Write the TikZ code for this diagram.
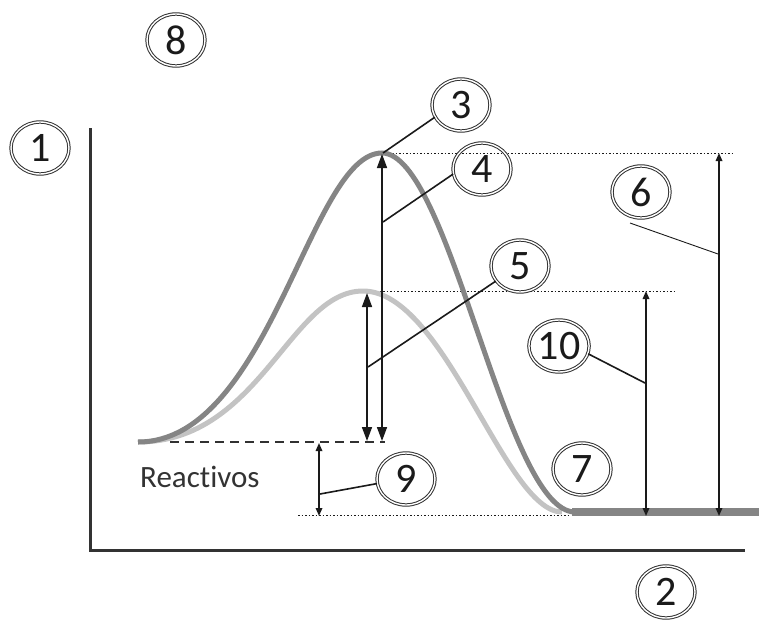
\documentclass[tikz,border=0pt]{standalone}
\usepackage{fontspec}
\setmainfont[Ligatures=NoCommon]{Carlito}
\usetikzlibrary{arrows.meta,shapes.geometric}
\definecolor{axisc}{HTML}{333333}
\definecolor{darkc}{HTML}{858585}
\definecolor{lightc}{HTML}{C3C3C3}
\definecolor{inkc}{HTML}{1A1A1A}
\tikzset{
  numcirc/.style={ellipse,draw=inkc!90,double=white,double distance=1.4pt,line width=1pt,
    minimum width=58pt,minimum height=52pt,inner sep=0pt,font=\fontsize{42}{42}\selectfont,text=inkc},
  axisline/.style={draw=axisc,line width=3pt},
  curveD/.style={draw=darkc,line width=5pt},
  curveL/.style={draw=lightc,line width=5pt},
  bigarr/.style={draw=inkc,line width=1.6pt,{Triangle[length=14pt,width=10pt]}-{Triangle[length=14pt,width=10pt]}},
  smallarr/.style={draw=inkc,line width=1.6pt,{Triangle[length=8pt,width=6.5pt]}-{Triangle[length=8pt,width=6.5pt]}},
  leader/.style={draw=inkc,line width=1.6pt},
  thinleader/.style={draw=inkc,line width=0.9pt},
  dotline/.style={draw=inkc,line width=1pt,dash pattern=on 1.5pt off 2pt},
  dashline/.style={draw=inkc!90,line width=2pt,dash pattern=on 9pt off 6pt},
}
\begin{document}
\begin{tikzpicture}[x=1pt,y=-1pt]
\useasboundingbox (0,0) rectangle (759,621);
% axes
\coordinate (yTop) at (90,128);
\coordinate (origin) at (90,550);
\coordinate (xEnd) at (745,550);
\draw[axisline] (yTop) -- (origin) -- (xEnd);
% guide lines
\coordinate (dA) at (385,153); \coordinate (dB) at (733,153);
\coordinate (dC) at (362,291); \coordinate (dD) at (675,291);
\coordinate (dE) at (298,515); \coordinate (dF) at (570,515);
\coordinate (rA) at (170,442); \coordinate (rB) at (385,442);
\draw[dotline] (dA) -- (dB);
\draw[dotline] (dC) -- (dD);
\draw[dotline] (dE) -- (dF);
\draw[dashline] (rA) -- (rB);
% curves
\draw[curveL] (138,442) .. controls (260,442) and (290,291) .. (363,291)
   .. controls (445,291) and (505,512) .. (562,512);
\draw[curveD] (138,442) .. controls (270,442) and (310,153) .. (382,153)
   .. controls (450,153) and (505,512) .. (575,512);
\draw[draw=darkc,line width=8pt] (572,512) -- (759,512);
% arrows
\coordinate (a4t) at (382,154); \coordinate (a4b) at (382,441);
\coordinate (a5t) at (367,293); \coordinate (a5b) at (367,441);
\coordinate (a9t) at (319,443); \coordinate (a9b) at (319,516);
\coordinate (a10t) at (646,291); \coordinate (a10b) at (646,516);
\coordinate (a6t) at (719,153); \coordinate (a6b) at (719,516);
\draw[bigarr] (a4t) -- (a4b);
\draw[bigarr] (a5t) -- (a5b);
\draw[smallarr] (a9t) -- (a9b);
\draw[smallarr] (a10t) -- (a10b);
\draw[smallarr] (a6t) -- (a6b);
% labels
\node[numcirc] (c8) at (176,40) {8};
\node[numcirc] (c1) at (40,148) {1};
\node[numcirc] (c3) at (461,105) {3};
\node[numcirc] (c4) at (482,169) {4};
\node[numcirc] (c5) at (520,266) {5};
\node[numcirc] (c6) at (641,192) {6};
\node[numcirc] (c10) at (559,346) {10};
\node[numcirc] (c7) at (582,469) {7};
\node[numcirc] (c9) at (406,479) {9};
\node[numcirc] (c2) at (666,592) {2};
\node[anchor=base west,font=\fontsize{31}{31}\selectfont,text=axisc,inner sep=0pt] (reac) at (140,487) {Reactivos};
% leaders
\coordinate (l3) at (383,153);
\coordinate (l4) at (383,222);
\coordinate (l5) at (368,367);
\coordinate (l6a) at (630,223);
\coordinate (l6b) at (718,254);
\coordinate (l10) at (645,383);
\coordinate (l9) at (320,494);
\draw[leader] (l3) -- (c3.205);
\draw[leader] (l4) -- (c4.190);
\draw[leader] (l5) -- (c5.212);
\draw[thinleader] (l6a) -- (l6b);
\draw[leader] (c10.345) -- (l10);
\draw[leader] (l9) -- (c9.189);
\end{tikzpicture}
\end{document}
